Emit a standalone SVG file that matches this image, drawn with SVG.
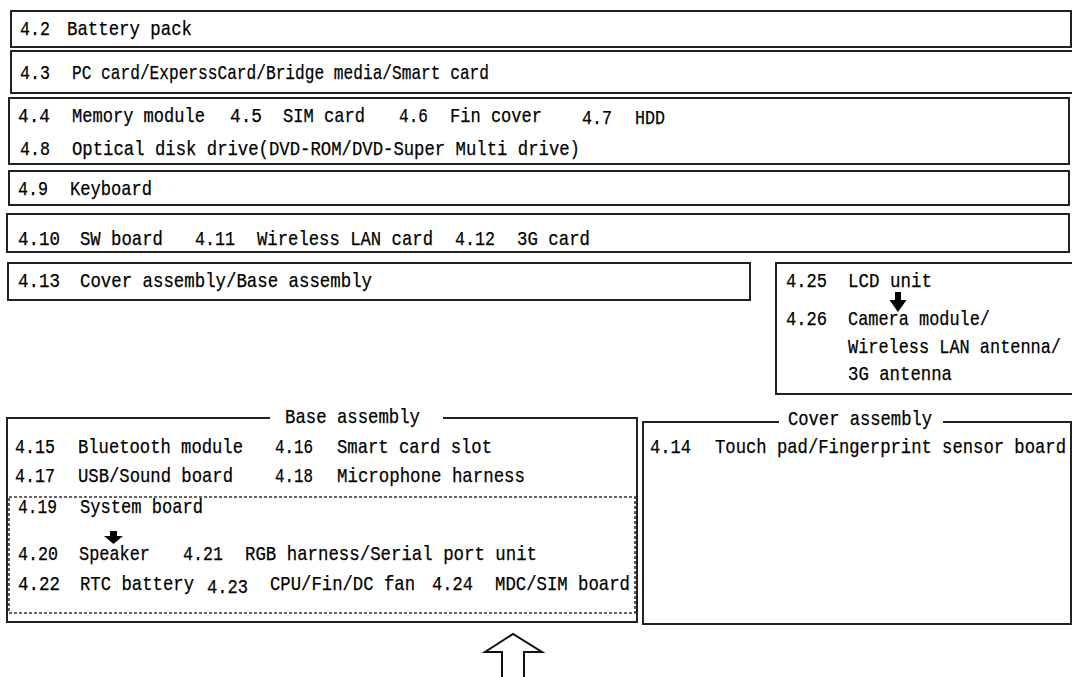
<svg xmlns="http://www.w3.org/2000/svg" width="1072" height="677" viewBox="0 0 1072 677">
<style>
.b{fill:#fff;stroke:#222;stroke-width:2}
.l{fill:none;stroke:#222;stroke-width:2}
.d{fill:none;stroke:#333;stroke-width:1.6;stroke-dasharray:3 2}
text{font-family:"Liberation Mono","DejaVu Sans Mono",monospace;font-size:21px;fill:#000;stroke:#000;stroke-width:0.25}
</style>
<rect width="1072" height="677" fill="#fff"/>
<g id="n42">
<rect class="b" x="11" y="11" width="1060" height="36"/>
<text x="20" y="35" textLength="30" lengthAdjust="spacingAndGlyphs">4.2</text>
<text x="67" y="35" textLength="125" lengthAdjust="spacingAndGlyphs">Battery pack</text>
</g>
<g id="n43">
<rect class="b" x="11" y="51" width="1064" height="42"/>
<text x="20" y="79" textLength="30" lengthAdjust="spacingAndGlyphs">4.3</text>
<text x="72" y="79" textLength="417" lengthAdjust="spacingAndGlyphs">PC card/ExperssCard/Bridge media/Smart card</text>
</g>
<g id="n44">
<rect class="b" x="9" y="98" width="1060" height="66"/>
<text x="18" y="122" textLength="32" lengthAdjust="spacingAndGlyphs">4.4</text>
<text x="72" y="122" textLength="133" lengthAdjust="spacingAndGlyphs">Memory module</text>
<text x="230" y="122" textLength="32" lengthAdjust="spacingAndGlyphs">4.5</text>
<text x="283" y="122" textLength="82" lengthAdjust="spacingAndGlyphs">SIM card</text>
<text x="399" y="122" textLength="29" lengthAdjust="spacingAndGlyphs">4.6</text>
<text x="450" y="122" textLength="92" lengthAdjust="spacingAndGlyphs">Fin cover</text>
<text x="582" y="124" textLength="30" lengthAdjust="spacingAndGlyphs">4.7</text>
<text x="635" y="124" textLength="30" lengthAdjust="spacingAndGlyphs">HDD</text>
<text x="20" y="155" textLength="30" lengthAdjust="spacingAndGlyphs">4.8</text>
<text x="72" y="155" textLength="508" lengthAdjust="spacingAndGlyphs">Optical disk drive(DVD-ROM/DVD-Super Multi drive)</text>
</g>
<g id="n49">
<rect class="b" x="9" y="171" width="1060" height="34"/>
<text x="18" y="195" textLength="30" lengthAdjust="spacingAndGlyphs">4.9</text>
<text x="70" y="195" textLength="82" lengthAdjust="spacingAndGlyphs">Keyboard</text>
</g>
<g id="n410">
<rect class="b" x="7" y="214" width="1062" height="38"/>
<text x="18" y="245" textLength="42" lengthAdjust="spacingAndGlyphs">4.10</text>
<text x="80" y="245" textLength="83" lengthAdjust="spacingAndGlyphs">SW board</text>
<text x="195" y="245" textLength="40" lengthAdjust="spacingAndGlyphs">4.11</text>
<text x="257" y="245" textLength="176" lengthAdjust="spacingAndGlyphs">Wireless LAN card</text>
<text x="455" y="245" textLength="40" lengthAdjust="spacingAndGlyphs">4.12</text>
<text x="517" y="245" textLength="73" lengthAdjust="spacingAndGlyphs">3G card</text>
</g>
<g id="n413">
<rect class="b" x="8" y="263" width="742" height="37"/>
<text x="18" y="287" textLength="42" lengthAdjust="spacingAndGlyphs">4.13</text>
<text x="80" y="287" textLength="292" lengthAdjust="spacingAndGlyphs">Cover assembly/Base assembly</text>
</g>
<g id="n425">
<rect class="b" x="776" y="263" width="298" height="131"/>
<text x="786" y="287" textLength="41" lengthAdjust="spacingAndGlyphs">4.25</text>
<text x="848" y="287" textLength="84" lengthAdjust="spacingAndGlyphs">LCD unit</text>
<text x="786" y="325" textLength="41" lengthAdjust="spacingAndGlyphs">4.26</text>
<text x="848" y="325" textLength="142" lengthAdjust="spacingAndGlyphs">Camera module/</text>
<text x="848" y="353" textLength="213" lengthAdjust="spacingAndGlyphs">Wireless LAN antenna/</text>
<text x="848" y="380" textLength="104" lengthAdjust="spacingAndGlyphs">3G antenna</text>
</g>
<g id="base">
<path class="l" d="M270 418 H7 V622 H637 V418 H443"/>
<text x="285" y="423" textLength="135" lengthAdjust="spacingAndGlyphs">Base assembly</text>
<text x="15" y="453" textLength="40" lengthAdjust="spacingAndGlyphs">4.15</text>
<text x="78" y="453" textLength="165" lengthAdjust="spacingAndGlyphs">Bluetooth module</text>
<text x="275" y="453" textLength="38" lengthAdjust="spacingAndGlyphs">4.16</text>
<text x="337" y="453" textLength="155" lengthAdjust="spacingAndGlyphs">Smart card slot</text>
<text x="15" y="482" textLength="40" lengthAdjust="spacingAndGlyphs">4.17</text>
<text x="78" y="482" textLength="155" lengthAdjust="spacingAndGlyphs">USB/Sound board</text>
<text x="275" y="482" textLength="38" lengthAdjust="spacingAndGlyphs">4.18</text>
<text x="337" y="482" textLength="188" lengthAdjust="spacingAndGlyphs">Microphone harness</text>
</g>
<g id="system">
<rect class="d" x="9" y="497" width="626" height="116"/>
<text x="18" y="513" textLength="39" lengthAdjust="spacingAndGlyphs">4.19</text>
<text x="80" y="513" textLength="123" lengthAdjust="spacingAndGlyphs">System board</text>
<text x="18" y="560" textLength="40" lengthAdjust="spacingAndGlyphs">4.20</text>
<text x="79" y="560" textLength="71" lengthAdjust="spacingAndGlyphs">Speaker</text>
<text x="183" y="560" textLength="40" lengthAdjust="spacingAndGlyphs">4.21</text>
<text x="245" y="560" textLength="292" lengthAdjust="spacingAndGlyphs">RGB harness/Serial port unit</text>
<text x="18" y="590" textLength="42" lengthAdjust="spacingAndGlyphs">4.22</text>
<text x="80" y="590" textLength="114" lengthAdjust="spacingAndGlyphs">RTC battery</text>
<text x="207" y="593" textLength="41" lengthAdjust="spacingAndGlyphs">4.23</text>
<text x="270" y="590" textLength="145" lengthAdjust="spacingAndGlyphs">CPU/Fin/DC fan</text>
<text x="432" y="590" textLength="41" lengthAdjust="spacingAndGlyphs">4.24</text>
<text x="495" y="590" textLength="135" lengthAdjust="spacingAndGlyphs">MDC/SIM board</text>
</g>
<g id="cover">
<path class="l" d="M779 422 H643 V624 H1071 V422 H943"/>
<text x="788" y="425" textLength="144" lengthAdjust="spacingAndGlyphs">Cover assembly</text>
<text x="650" y="453" textLength="41" lengthAdjust="spacingAndGlyphs">4.14</text>
<text x="715" y="453" textLength="351" lengthAdjust="spacingAndGlyphs">Touch pad/Fingerprint sensor board</text>
</g>
<g id="connectors">
<path d="M110 531 H117 V536 H123 L113.5 544 L104 536 H110 Z" fill="#000"/>
<path d="M895 292 H901 V300 H906.5 L898 312 L889.5 300 H895 Z" fill="#000"/>
<path d="M502 680 V652 H485 L513 634 L542 652 H524 V680" fill="#fff" stroke="#111" stroke-width="2"/>
</g>
</svg>
